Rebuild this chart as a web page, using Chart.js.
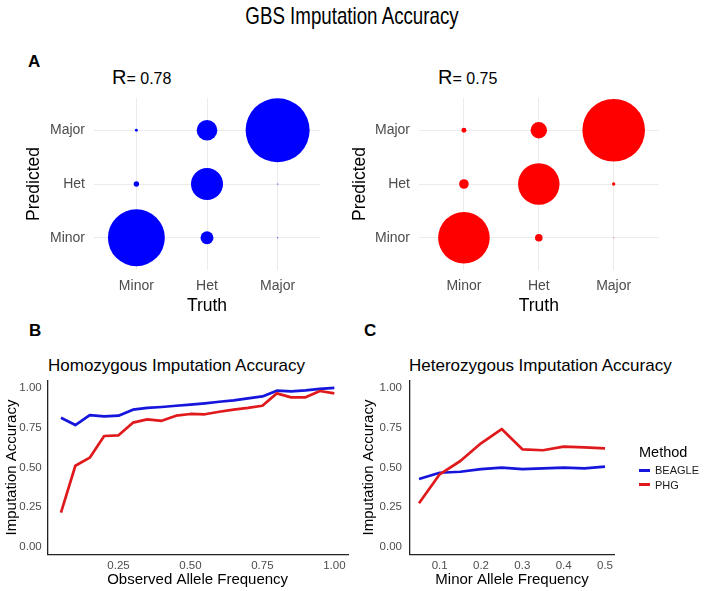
<!DOCTYPE html>
<html>
<head>
<meta charset="utf-8">
<title>GBS Imputation Accuracy</title>
<script src="https://cdn.jsdelivr.net/npm/chart.js@4.4.0/dist/chart.umd.min.js"></script>
<style>
    html, body { margin: 0; padding: 0; background: #fff; }
    body { width: 704px; height: 591px; position: relative; overflow: hidden;
           font-family: 'Liberation Sans', Arial, Helvetica, sans-serif; }
    canvas { position: absolute; }
    .txt { position: absolute; white-space: nowrap; line-height: 1; color: #000; }
    .key { position: absolute; width: 11px; height: 3px; }
</style>
</head>
<body>
<div class="txt" style="left:352px; top:16px; font-size:24px; transform:translate(-50%,-50%) scaleX(0.78);">GBS Imputation Accuracy</div>

<div class="txt" style="left:28px; top:61px; font-size:17px; font-weight:bold; transform:translateY(-50%);">A</div>
<div class="txt" style="left:29px; top:330px; font-size:17px; font-weight:bold; transform:translateY(-50%);">B</div>
<div class="txt" style="left:364px; top:330px; font-size:17px; font-weight:bold; transform:translateY(-50%);">C</div>

<div class="txt" style="left:112px; top:77px; transform:translateY(-50%);"><span style="font-size:20px;">R</span><span style="font-size:16px;">= 0.78</span></div>
<div class="txt" style="left:438px; top:77px; transform:translateY(-50%);"><span style="font-size:20px;">R</span><span style="font-size:16px;">= 0.75</span></div>

<div class="txt" style="left:48px; top:365px; font-size:17px; transform:translateY(-50%);">Homozygous Imputation Accuracy</div>
<div class="txt" style="left:409px; top:365px; font-size:17px; transform:translateY(-50%);">Heterozygous Imputation Accuracy</div>

<canvas id="beagleBubble" width="352" height="270" style="left:0px; top:50px;"></canvas>
<canvas id="phgBubble" width="362" height="270" style="left:342px; top:50px;"></canvas>
<canvas id="homChart" width="352" height="251" style="left:0px; top:340px;"></canvas>
<canvas id="hetChart" width="352" height="251" style="left:352px; top:340px;"></canvas>

<!-- 图例 -->
<div class="txt" style="left:639px; top:452px; font-size:14.5px; transform:translateY(-50%);">Method</div>
<div class="key" style="left:639px; top:468.5px; background:#1515dc;"></div>
<div class="txt" style="left:655px; top:470px; font-size:11px; color:#1a1a1a; transform:translateY(-50%);">BEAGLE</div>
<div class="key" style="left:639px; top:483px; background:#e01a1c;"></div>
<div class="txt" style="left:655px; top:484.5px; font-size:11px; color:#1a1a1a; transform:translateY(-50%);">PHG</div>

<script>
// 字体
const FONT = "'Liberation Sans', Arial, Helvetica, sans-serif";

// 面板A：混淆矩阵（行=Predicted Minor/Het/Major，列=Truth Minor/Het/Major，相对最大格的比例）
const truthLabels = ['Minor', 'Het', 'Major'];
const predLabels = ['Minor', 'Het', 'Major'];
const beagleMatrix = [
    [0.79, 0.041, 0.0003],
    [0.007, 0.25, 0.0003],
    [0.002, 0.104, 1.0]
];
const phgMatrix = [
    [0.65, 0.014, 0.0002],
    [0.0225, 0.42, 0.0028],
    [0.006, 0.066, 0.957]
];
const maxBubbleRadius = 32;

// 面板B：纯合位点
const homFreq = [0.05, 0.10, 0.15, 0.20, 0.25, 0.30, 0.35, 0.40, 0.45, 0.50,
                 0.55, 0.60, 0.65, 0.70, 0.75, 0.80, 0.85, 0.90, 0.95, 1.00];
const homBeagle = [0.814, 0.768, 0.831, 0.823, 0.827, 0.865, 0.876, 0.882, 0.890, 0.897,
                   0.905, 0.915, 0.924, 0.937, 0.949, 0.985, 0.981, 0.987, 0.997, 1.003];
const homPhg = [0.215, 0.511, 0.562, 0.699, 0.703, 0.783, 0.804, 0.795, 0.827, 0.838,
                0.836, 0.852, 0.865, 0.876, 0.890, 0.968, 0.943, 0.943, 0.983, 0.968];

// 面板C：杂合位点
const hetFreq = [0.05, 0.10, 0.15, 0.20, 0.25, 0.30, 0.35, 0.40, 0.45, 0.50];
const hetBeagle = [0.427, 0.467, 0.473, 0.490, 0.499, 0.490, 0.495, 0.499, 0.495, 0.505];
const hetPhg = [0.274, 0.457, 0.541, 0.653, 0.743, 0.615, 0.609, 0.632, 0.627, 0.621];

// 刻度
const homTicks = [0.25, 0.50, 0.75, 1.00];
const hetTicks = [0.1, 0.2, 0.3, 0.4, 0.5];
const accTicks = [0, 0.25, 0.50, 0.75, 1.00];

const BEAGLE_COLOR = '#1515dc';
const PHG_COLOR = '#e01a1c';

// 矩阵转气泡
function matrixToBubbles(matrix) {
    const points = [];
    matrix.forEach((row, p) => {
        row.forEach((v, t) => {
            points.push({ x: t + 1, y: p + 1, r: maxBubbleRadius * Math.sqrt(v) });
        });
    });
    return points;
}

// 气泡图
function makeBubbleChart(id, matrix, color, box) {
    const ctx = document.getElementById(id);
    new Chart(ctx, {
        type: 'bubble',
        data: {
            datasets: [{
                data: matrixToBubbles(matrix),
                backgroundColor: color,
                borderWidth: 0,
                hoverRadius: 0,
                clip: false
            }]
        },
        options: {
            responsive: false,
            animation: false,
            events: [],
            layout: { padding: { left: 0, top: box.top, right: box.right, bottom: 0 } },
            plugins: { legend: { display: false }, tooltip: { enabled: false } },
            scales: {
                x: {
                    type: 'linear', min: 0.4, max: 3.6,
                    afterBuildTicks: s => { s.ticks = truthLabels.map((_, i) => ({ value: i + 1 })); },
                    afterFit: s => { s.height = box.xAxis; },
                    ticks: {
                        callback: v => truthLabels[v - 1],
                        font: { family: FONT, size: 14 }, color: '#4d4d4d',
                        padding: 8, autoSkip: false, maxRotation: 0
                    },
                    grid: { color: '#ebebeb', lineWidth: 1, drawTicks: false },
                    border: { display: false },
                    title: {
                        display: true, text: 'Truth', color: '#000',
                        font: { family: FONT, size: 17.5 }, padding: { top: 0, bottom: 3 }
                    }
                },
                y: {
                    type: 'linear', min: 0.4, max: 3.6,
                    afterBuildTicks: s => { s.ticks = predLabels.map((_, i) => ({ value: i + 1 })); },
                    afterFit: s => { s.width = box.yAxis; },
                    ticks: {
                        callback: v => predLabels[v - 1],
                        font: { family: FONT, size: 14 }, color: '#4d4d4d',
                        padding: 9, autoSkip: false
                    },
                    grid: { color: '#ebebeb', lineWidth: 1, drawTicks: false },
                    border: { display: false },
                    title: {
                        display: true, text: 'Predicted', color: '#000',
                        font: { family: FONT, size: 17.5 }, padding: { top: box.yTitle, bottom: 0 }
                    }
                }
            }
        }
    });
}

// 折线图
function makeLineChart(id, xs, beagle, phg, xTicks, xRange, xDigits, xTitle, box) {
    const ctx = document.getElementById(id);
    new Chart(ctx, {
        type: 'line',
        data: {
            datasets: [{
                label: 'BEAGLE',
                data: xs.map((x, i) => ({ x: x, y: beagle[i] })),
                borderColor: BEAGLE_COLOR,
                borderWidth: 2.7,
                pointRadius: 0,
                tension: 0,
                borderJoinStyle: 'round',
                order: 1
            }, {
                label: 'PHG',
                data: xs.map((x, i) => ({ x: x, y: phg[i] })),
                borderColor: PHG_COLOR,
                borderWidth: 2.7,
                pointRadius: 0,
                tension: 0,
                borderJoinStyle: 'round',
                order: 0
            }]
        },
        options: {
            responsive: false,
            animation: false,
            events: [],
            layout: { padding: { left: 0, top: 40.4, right: box.right, bottom: 0 } },
            plugins: { legend: { display: false }, tooltip: { enabled: false } },
            scales: {
                x: {
                    type: 'linear', min: xRange[0], max: xRange[1],
                    afterBuildTicks: s => { s.ticks = xTicks.map(v => ({ value: v })); },
                    afterFit: s => { s.height = 36.4; },
                    ticks: {
                        callback: v => v.toFixed(xDigits),
                        font: { family: FONT, size: 11.5 }, color: '#4d4d4d',
                        padding: 4.5, autoSkip: false, maxRotation: 0
                    },
                    grid: { display: false, drawTicks: false },
                    border: { display: true, color: '#222', width: 1.3 },
                    title: {
                        display: true, text: xTitle, color: '#000',
                        font: { family: FONT, size: 15 }, padding: { top: 0, bottom: 2 }
                    }
                },
                y: {
                    type: 'linear', min: -0.05, max: 1.05,
                    afterBuildTicks: s => { s.ticks = accTicks.map(v => ({ value: v })); },
                    afterFit: s => { s.width = box.yAxis; },
                    ticks: {
                        callback: v => v.toFixed(2),
                        font: { family: FONT, size: 11.5 }, color: '#4d4d4d',
                        padding: box.yPad, autoSkip: false
                    },
                    grid: { display: false, drawTicks: false },
                    border: { display: true, color: '#222', width: 1.3 },
                    title: {
                        display: true, text: 'Imputation Accuracy', color: '#000',
                        font: { family: FONT, size: 15 }, padding: { top: box.yTitle, bottom: 0 }
                    }
                }
            }
        }
    });
}

document.addEventListener('DOMContentLoaded', function() {
    makeBubbleChart('beagleBubble', beagleMatrix, '#0000ff',
        { top: 48, right: 19, xAxis: 50, yAxis: 94, yTitle: 23.8 });
    makeBubbleChart('phgBubble', phgMatrix, '#ff0000',
        { top: 48, right: 45.4, xAxis: 50, yAxis: 77, yTitle: 8.1 });
    makeLineChart('homChart', homFreq, homBeagle, homPhg, homTicks, [0.0025, 1.0475], 2,
        'Observed Allele Frequency', { right: 4, yAxis: 47.3, yPad: 5.6, yTitle: 2.7 });
    makeLineChart('hetChart', hetFreq, hetBeagle, hetPhg, hetTicks, [0.0275, 0.5225], 1,
        'Minor Allele Frequency', { right: 89.7, yAxis: 57.7, yPad: 7.7, yTitle: 7.7 });
});
</script>
</body>
</html>
